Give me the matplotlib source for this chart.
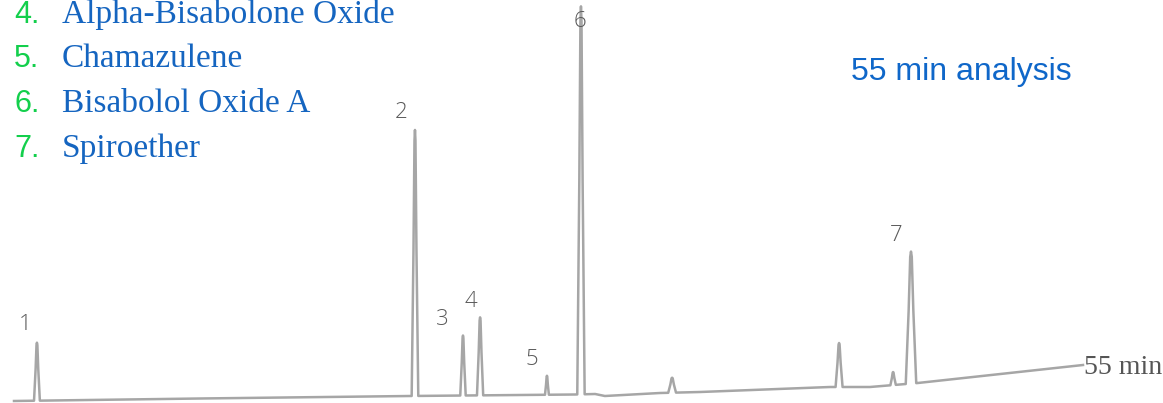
import matplotlib.pyplot as plt
import numpy as np

# retention time (min) and detector signal
base_t = [0.0, 9.57, 20.37, 28.86, 29.90, 30.40, 33.24, 35.30, 41.98, 44.04, 46.50, 55.0]
base_s = [0.0, 2.5, 5.0, 6.5, 7.0, 5.0, 8.0, 9.0, 14.0, 14.0, 18.0, 36.0]

peak_t = [1.18, 20.63, 23.10, 23.98, 27.42, 29.17, 33.86, 42.45, 45.23, 46.15]
peak_h = [58, 266, 60, 78, 19, 388, 15, 44, 13, 132]
peak_w = [0.15, 0.17, 0.14, 0.16, 0.10, 0.19, 0.20, 0.18, 0.14, 0.27]
peak_lbl = ['1', '2', '3', '4', '5', '6', '', '', '', '7']
lbl_off = [(-12, 18), (-14, 17), (-21, 16), (-9, 16), (-15, 16), (-1, -15),
           (0, 0), (0, 0), (0, 0), (-15, 16)]

legend_num = ['4.', '5.', '6.', '7.']
legend_txt = ['Alpha-Bisabolone Oxide', 'Chamazulene', 'Bisabolol Oxide A', 'Spiroether']

W, H = 1163, 403


def build_trace():
    pts = []
    for t, s in zip(base_t, base_s):
        inside = any(abs(t - pt) < pw for pt, pw in zip(peak_t, peak_w))
        if not inside:
            pts.append((t, s))
    for t, h, w in zip(peak_t, peak_h, peak_w):
        bl = np.interp(t - w, base_t, base_s)
        br = np.interp(t + w, base_t, base_s)
        top = np.interp(t, base_t, base_s) + h
        pts += [(t - w, bl), (t - 0.45 * w, bl + 0.55 * (top - bl)),
                (t - 0.15 * w, top - 0.04 * h), (t, top),
                (t + 0.15 * w, top - 0.04 * h), (t + 0.45 * w, br + 0.55 * (top - br)),
                (t + w, br)]
    pts.sort()
    return np.array(pts)


trace = build_trace()

fig = plt.figure(figsize=(W / 100, H / 100), dpi=100)
ax = fig.add_axes([0, 0, 1, 1])
# x: 14 px -> 0 min, 1083 px -> 55 min ; y: 401 px -> 0 signal
px_per_min = (1083 - 14) / 55
ax.set_xlim(-14 / px_per_min, (W - 14) / px_per_min)
ax.set_ylim(-2, 401)
ax.axis('off')

ax.plot(trace[:, 0], trace[:, 1], color='#a6a6a6', lw=1.8, solid_joinstyle='round')

for t, h, lbl, off in zip(peak_t, peak_h, peak_lbl, lbl_off):
    if not lbl:
        continue
    top = np.interp(t, base_t, base_s) + h
    ax.annotate(lbl, (t, top), xytext=off, textcoords='offset pixels',
                ha='center', va='center', fontsize=16, color='#5a5a5a',
                family='Open Sans', fontweight='light')

ax.annotate('55 min', (base_t[-1], base_s[-1]), xytext=(1, -3), textcoords='offset pixels',
            ha='left', va='center', fontsize=20, color='#555555', family='Liberation Serif')

rows_y = [23, 67, 112, 157]
for num, txt, y in zip(legend_num, legend_txt, rows_y):
    fig.text(14 / W, 1 - y / H, num, fontsize=22, color='#13cf4c',
             family='Liberation Sans', va='baseline', ha='left')
    fig.text(62 / W, 1 - y / H, txt, fontsize=24, color='#1565c0',
             family='Liberation Serif', va='baseline', ha='left')

fig.text(851 / W, 1 - 80 / H, '55 min analysis', fontsize=23, color='#0f67c9',
         family='Liberation Sans', va='baseline', ha='left')

fig.savefig('out.png', dpi=100)
